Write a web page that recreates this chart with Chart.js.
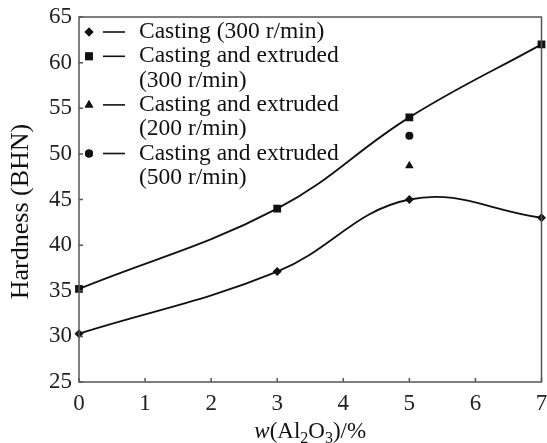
<!DOCTYPE html>
<html>
<head>
<meta charset="utf-8">
<script src="https://cdn.jsdelivr.net/npm/chart.js@4/dist/chart.umd.min.js"></script>
<style>
  html, body { margin: 0; padding: 0; background: #fff; }
  #wrap { width: 547px; height: 443px; }
</style>
</head>
<body>
<div id="wrap"><canvas id="chart" width="547" height="443"></canvas></div>
<script>
// data
const alContent = [0, 3, 5, 7];
const casting300 = [30.3, 37.1, 45.0, 43.0];
const extruded300 = [35.2, 44.0, 54.0, 62.0];
const extruded200X = [5];
const extruded200 = [48.7];
const extruded500X = [5];
const extruded500 = [52.0];
const xTicks = [0, 1, 2, 3, 4, 5, 6, 7];
const yTicks = [25, 30, 35, 40, 45, 50, 55, 60, 65];

const legendItems = [
  { style: 'rectRot', radius: 4.5, lines: ['Casting (300 r/min)'] },
  { style: 'rect', radius: 5.5, lines: ['Casting and extruded', '(300 r/min)'] },
  { style: 'triangle', radius: 5, lines: ['Casting and extruded', '(200 r/min)'] },
  { style: 'circle', radius: 4, lines: ['Casting and extruded', '(500 r/min)'] }
];

const SERIF = '"Liberation Serif", "DejaVu Serif", serif';
const toPoints = (xs, ys) => xs.map((x, i) => ({ x: x, y: ys[i] }));

// frame, inward ticks, legend and axis titles
const decorations = {
  id: 'decorations',
  afterDraw(chart) {
    const { ctx, chartArea: a, scales } = chart;
    ctx.save();
    ctx.strokeStyle = '#555';
    ctx.lineWidth = 1.5;
    ctx.strokeRect(a.left, a.top, a.right - a.left, a.bottom - a.top);
    ctx.beginPath();
    yTicks.forEach(v => {
      const y = scales.y.getPixelForValue(v);
      ctx.moveTo(a.left, y);
      ctx.lineTo(a.left + 4, y);
    });
    xTicks.forEach(v => {
      const x = scales.x.getPixelForValue(v);
      ctx.moveTo(x, a.bottom);
      ctx.lineTo(x, a.bottom - 4);
    });
    ctx.stroke();

    // legend
    const step = 24.3;
    ctx.fillStyle = '#111';
    ctx.strokeStyle = '#111';
    ctx.font = '23.5px ' + SERIF;
    ctx.textBaseline = 'middle';
    ctx.textAlign = 'left';
    let y = 32;
    legendItems.forEach(item => {
      Chart.helpers.drawPoint(ctx, {
        pointStyle: item.style, radius: item.radius, borderWidth: 0, rotation: 0
      }, 89, y);
      ctx.fillStyle = '#111';
      ctx.fill();
      ctx.beginPath();
      ctx.lineWidth = 1.6;
      ctx.moveTo(103, y);
      ctx.lineTo(125, y);
      ctx.stroke();
      item.lines.forEach((t, i) => {
        ctx.fillText(t, 139, y + i * step);
      });
      y += item.lines.length * step;
    });

    // x title: w(Al2O3)/%
    const parts = [
      { t: 'w', it: true }, { t: '(Al' }, { t: '2', sub: true },
      { t: 'O' }, { t: '3', sub: true }, { t: ')/%' }
    ];
    const big = '23px ' + SERIF, small = '16px ' + SERIF;
    const fontOf = p => p.it ? 'italic ' + big : (p.sub ? small : big);
    let total = 0;
    parts.forEach(p => { ctx.font = fontOf(p); total += ctx.measureText(p.t).width; });
    let x = (a.left + a.right) / 2 - total / 2;
    ctx.textBaseline = 'alphabetic';
    parts.forEach(p => {
      ctx.font = fontOf(p);
      ctx.fillText(p.t, x, p.sub ? 443 : 438);
      x += ctx.measureText(p.t).width;
    });

    // y title
    ctx.translate(28, (a.top + a.bottom) / 2 + 12);
    ctx.rotate(-Math.PI / 2);
    ctx.font = '26px ' + SERIF;
    ctx.textAlign = 'center';
    ctx.textBaseline = 'alphabetic';
    ctx.fillText('Hardness (BHN)', 0, 0);
    ctx.restore();
  }
};

const lineSet = (label, pts, style, radius) => ({
  label: label,
  data: pts,
  showLine: true,
  tension: 0.4,
  borderColor: '#111',
  borderWidth: 1.8,
  pointStyle: style,
  pointRadius: radius,
  pointBackgroundColor: '#111',
  pointBorderWidth: 0
});

const markSet = (label, pts, style, radius) => ({
  label: label,
  data: pts,
  showLine: false,
  pointStyle: style,
  pointRadius: radius,
  pointBackgroundColor: '#111',
  pointBorderWidth: 0
});

new Chart(document.getElementById('chart'), {
  type: 'scatter',
  data: {
    datasets: [
      lineSet('Casting (300 r/min)', toPoints(alContent, casting300), 'rectRot', 4.5),
      lineSet('Casting and extruded (300 r/min)', toPoints(alContent, extruded300), 'rect', 5.5),
      markSet('Casting and extruded (200 r/min)', toPoints(extruded200X, extruded200), 'triangle', 5),
      markSet('Casting and extruded (500 r/min)', toPoints(extruded500X, extruded500), 'circle', 4)
    ]
  },
  options: {
    responsive: false,
    animation: false,
    clip: false,
    layout: { padding: { top: 17, right: 5, left: 0, bottom: 0 } },
    plugins: { legend: { display: false }, tooltip: { enabled: false } },
    scales: {
      x: {
        type: 'linear',
        min: 0, max: 7,
        afterFit: s => { s.height = 61; s.paddingLeft = 0; s.paddingRight = 0; },
        afterBuildTicks: s => { s.ticks = xTicks.map(v => ({ value: v })); },
        grid: { display: false, drawTicks: false },
        border: { display: false },
        ticks: { padding: 8, color: '#222', font: { family: SERIF, size: 23 } }
      },
      y: {
        min: 25, max: 65,
        afterFit: s => { s.width = 79; s.paddingTop = 0; s.paddingBottom = 0; },
        afterBuildTicks: s => { s.ticks = yTicks.map(v => ({ value: v })); },
        grid: { display: false, drawTicks: false },
        border: { display: false },
        ticks: { padding: 7, color: '#222', font: { family: SERIF, size: 23 } }
      }
    }
  },
  plugins: [decorations]
});
</script>
</body>
</html>
